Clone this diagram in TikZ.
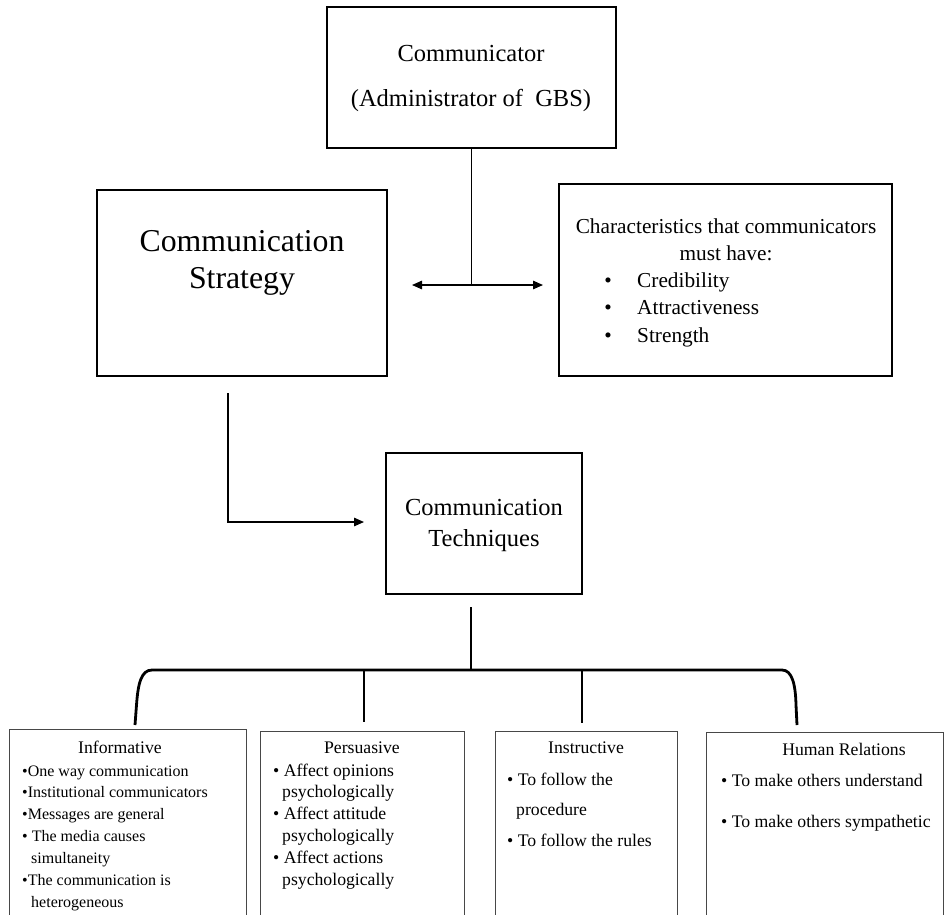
\documentclass[tikz,border=0pt]{standalone}
\usepackage{fontspec}
\setmainfont{Liberation Serif}
\usetikzlibrary{arrows.meta}
\newcommand\fsA{\fontsize{24.5pt}{30pt}\selectfont}
\newcommand\fsB{\fontsize{31.8pt}{38pt}\selectfont}
\newcommand\fsC{\fontsize{21.3pt}{27pt}\selectfont}
\newcommand\fsD{\fontsize{17.7pt}{22pt}\selectfont}
\newcommand\fsE{\fontsize{16pt}{22pt}\selectfont}
\tikzset{
  box/.style={draw=black, line width=1.6pt, inner sep=0pt},
  lowbox/.style={draw=black!72, line width=1.1pt, inner sep=0pt, anchor=north west},
  conn/.style={line width=1.3pt},
  brace/.style={line width=2.8pt},
  tip/.style={-{Triangle[length=10pt,width=8.5pt]}},
  txt/.style={inner sep=0pt, anchor=base},
  ltxt/.style={inner sep=0pt, anchor=base west},
}
\begin{document}
\begin{tikzpicture}[x=1pt,y=-1pt]
\path[use as bounding box] (0,0) rectangle (944,914);
\clip (0,0) rectangle (944,914);
\fill[white] (0,0) rectangle (944,914);

% --- boxes ---
\node[box, minimum width=289pt, minimum height=141pt] (comm) at (471.5,77.5) {};
\node[box, minimum width=290pt, minimum height=186pt] (strat) at (242,283) {};
\node[box, line width=1.9pt, minimum width=333pt, minimum height=192pt] (charx) at (725.5,280) {};
\node[box, minimum width=196pt, minimum height=141pt] (tech) at (484,523.5) {};

\node[lowbox, minimum width=237pt, minimum height=220pt] (inf) at (9,729) {};
\node[lowbox, minimum width=204pt, minimum height=220pt] (pers) at (260,731) {};
\node[lowbox, minimum width=182pt, minimum height=220pt] (instr) at (495,731) {};
\node[lowbox, minimum width=236.5pt, minimum height=220pt] (hum) at (706,732) {};

% --- texts ---
\node[txt, font=\fsA] (commT1) at (471,61) {Communicator};
\node[txt, font=\fsA] (commT2) at (471,106) {(Administrator of~ GBS)};

\node[txt, font=\fsB] (stT1) at (242,251) {Communication};
\node[txt, font=\fsB] (stT2) at (242,288) {Strategy};

\node[txt, font=\fsC] (chT1) at (726,233) {Characteristics that communicators};
\node[txt, font=\fsC] (chT2) at (726,260) {must have:};
\node[txt, font=\fsC] (chB1) at (608,287) {•};
\node[txt, font=\fsC] (chB2) at (608,314.5) {•};
\node[txt, font=\fsC] (chB3) at (608,342) {•};
\node[ltxt, font=\fsC] (chI1) at (637,287) {Credibility};
\node[ltxt, font=\fsC] (chI2) at (637,314.5) {Attractiveness};
\node[ltxt, font=\fsC] (chI3) at (637,342) {Strength};

\node[txt, font=\fsA] (tcT1) at (484,515) {Communication};
\node[txt, font=\fsA] (tcT2) at (484,546) {Techniques};

\node[txt, font=\fsD] (infT) at (120,753) {Informative};
\node[ltxt, font=\fsE] (inf1) at (22,776) {•One way communication};
\node[ltxt, font=\fsE] (inf2) at (22,797.5) {•Institutional communicators};
\node[ltxt, font=\fsE] (inf3) at (22,819) {•Messages are general};
\node[ltxt, font=\fsE] (inf4) at (22,841) {• The media causes};
\node[ltxt, font=\fsE] (inf5) at (31,863) {simultaneity};
\node[ltxt, font=\fsE] (inf6) at (22,885) {•The communication is};
\node[ltxt, font=\fsE] (inf7) at (31,907) {heterogeneous};

\node[txt, font=\fsD] (persT) at (362,753) {Persuasive};
\node[ltxt, font=\fsD] (pers1) at (273,776) {• Affect opinions};
\node[ltxt, font=\fsD] (pers2) at (282,797.5) {psychologically};
\node[ltxt, font=\fsD] (pers3) at (273,819) {• Affect attitude};
\node[ltxt, font=\fsD] (pers4) at (282,841) {psychologically};
\node[ltxt, font=\fsD] (pers5) at (273,863) {• Affect actions};
\node[ltxt, font=\fsD] (pers6) at (282,885) {psychologically};

\node[txt, font=\fsD] (instrT) at (586,753) {Instructive};
\node[ltxt, font=\fsD] (instr1) at (507,785) {• To follow the};
\node[ltxt, font=\fsD] (instr2) at (516,815.5) {procedure};
\node[ltxt, font=\fsD] (instr3) at (507,846) {• To follow the rules};

\node[txt, font=\fsD] (humT) at (844,755) {Human Relations};
\node[ltxt, font=\fsD] (hum1) at (721,786) {• To make others understand};
\node[ltxt, font=\fsD] (hum2) at (721,827) {• To make others sympathetic};

% --- connectors ---
\coordinate (jn) at (471.5,285);
\coordinate (al) at (412,285);
\coordinate (ar) at (543,285);
\draw[conn] (comm.south) -- (jn);
\draw[conn, {Triangle[length=10pt,width=8.5pt]}-{Triangle[length=10pt,width=8.5pt]}] (al) -- (ar);

\coordinate (s0) at (228,393);
\coordinate (s1) at (228,522);
\coordinate (tin) at (364,522);
\draw[conn, tip] (s0) -- (s1) -- (tin);

\coordinate (b0) at (471,607);
\coordinate (bc) at (471,670);
\draw[brace] (b0) -- (bc);

\coordinate (bl) at (135,725);
\coordinate (br) at (797,725);
\draw[brace] (bl) -- (136.5,705) .. controls (138,684) and (141,670) .. (152,670)
  -- (782,670) .. controls (792,670) and (795.5,684) .. (796,705) -- (br);
\coordinate (d1) at (364,670);
\coordinate (d1e) at (364,722);
\coordinate (d2) at (582,670);
\coordinate (d2e) at (582,723);
\draw[brace] (d1) -- (d1e);
\draw[brace] (d2) -- (d2e);
\end{tikzpicture}
\end{document}
